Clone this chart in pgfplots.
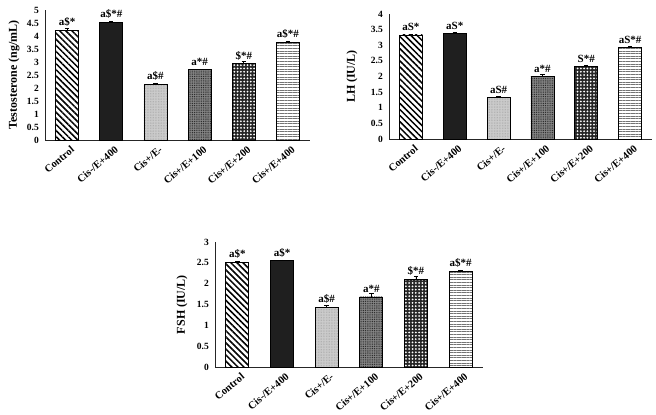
\documentclass[border=0pt]{standalone}
\usepackage{fontspec}
\setmainfont{Liberation Serif}
\usepackage{pgfplots}
\pgfplotsset{compat=1.18}
\usetikzlibrary{patterns.meta}
\tikzset{
  c1/.style={draw=black, line width=0.8pt, fill=white, postaction={pattern={Lines[angle=-45,distance=4.3pt,line width=1.5pt]}, pattern color=black}},
  c2/.style={draw=black, line width=0.8pt, fill=black!88},
  c3/.style={draw=black, line width=0.8pt, fill=black!20, postaction={pattern={Dots[distance=1.6pt,radius=0.3pt]}, pattern color=black!45}},
  c4/.style={draw=black, line width=0.8pt, fill=black!48, postaction={pattern={Dots[distance=1.8pt,radius=0.55pt]}, pattern color=black!85}},
  c5/.style={draw=black, line width=0.8pt, fill=black!85, postaction={pattern={Dots[distance=3.3pt,radius=1.0pt]}, pattern color=white}},
  c6/.style={draw=black, line width=0.8pt, fill=white, postaction={pattern={Lines[angle=0,distance=2.6pt,line width=0.7pt]}, pattern color=black!55}},
}
\pgfplotsset{
  myax/.style={
    scale only axis, width=265pt, xmin=-0.5, xmax=5.5, ymin=0,
    axis x line=bottom, axis y line=left,
    axis line style={line width=0.9pt, black!85, -},
    xtick={0,...,5},
    xticklabels={Control, Cis-/E+400, Cis+/E-, Cis+/E+100, Cis+/E+200, Cis+/E+400},
    x tick label style={rotate=40, anchor=north east, font=\bfseries\fontsize{10.5}{12}\selectfont, inner sep=1pt, yshift=-5pt},
    y tick label style={font=\bfseries\fontsize{9.5}{11}\selectfont, inner sep=1pt, xshift=-5pt},
    ylabel style={font=\bfseries\fontsize{12}{14}\selectfont, anchor=center},
    major tick length=0pt, tick style={draw=none},
    /pgf/number format/assume math mode=true,
    ybar, bar width=23pt, bar shift=0pt, clip=false,
    nodes near coords style={font=\bfseries\fontsize{11}{13}\selectfont, anchor=south, inner sep=1pt, yshift=2.5pt, black},
    error bars/y dir=plus, error bars/y explicit,
    error bars/error bar style={black, line width=0.6pt},
    error bars/error mark options={rotate=90, mark size=2.2pt, black, line width=0.6pt},
  }
}
\begin{document}
\begin{tikzpicture}
\useasboundingbox (0,0) rectangle (656pt,415pt);
% Testosterone
\begin{axis}[myax, at={(45pt,275pt)}, anchor=south west, height=130pt, ymax=5,
  ytick={0,0.5,1,1.5,2,2.5,3,3.5,4,4.5,5}, ylabel={Testosterone (ng/mL)},
  ylabel style={at={(axis description cs:-0.117,0.5)}}]
\addplot[c1, nodes near coords={a\$*}] coordinates {(0,4.22) +- (0,0.07)};
\addplot[c2, nodes near coords={a\$*\#}] coordinates {(1,4.52) +- (0,0.03)};
\addplot[c3, nodes near coords={a\$\#}] coordinates {(2,2.13) +- (0,0.04)};
\addplot[c4, nodes near coords={a*\#}] coordinates {(3,2.70) +- (0,0.02)};
\addplot[c5, nodes near coords={\$*\#}] coordinates {(4,2.93) +- (0,0.08)};
\addplot[c6, nodes near coords={a\$*\#}] coordinates {(5,3.75) +- (0,0.05)};
\end{axis}
% LH
\begin{axis}[myax, at={(389pt,276pt)}, anchor=south west, height=125pt, width=263pt, ymax=4,
  ytick={0,0.5,1,1.5,2,2.5,3,3.5,4}, ylabel={LH (IU/L)},
  ylabel style={at={(axis description cs:-0.141,0.5)}}]
\addplot[c1, nodes near coords={aS*}] coordinates {(0,3.33) +- (0,0.01)};
\addplot[c2, nodes near coords={aS*}] coordinates {(1,3.37) +- (0,0.04)};
\addplot[c3, nodes near coords={aS\#}] coordinates {(2,1.33) +- (0,0.03)};
\addplot[c4, nodes near coords={a*\#}] coordinates {(3,2.00) +- (0,0.07)};
\addplot[c5, nodes near coords={S*\#}] coordinates {(4,2.33) +- (0,0.02)};
\addplot[c6, nodes near coords={aS*\#}] coordinates {(5,2.93) +- (0,0.04)};
\end{axis}
% FSH
\begin{axis}[myax, at={(215pt,48pt)}, anchor=south west, height=125pt, width=268pt, ymax=3,
  ytick={0,0.5,1,1.5,2,2.5,3}, ylabel={FSH (IU/L)},
  ylabel style={at={(axis description cs:-0.123,0.5)}}]
\addplot[c1, nodes near coords={a\$*}] coordinates {(0,2.52) +- (0,0.01)};
\addplot[c2, nodes near coords={a\$*}] coordinates {(1,2.55) +- (0,0.02)};
\addplot[c3, nodes near coords={a\$\#}] coordinates {(2,1.44) +- (0,0.04)};
\addplot[c4, nodes near coords={a*\#}] coordinates {(3,1.68) +- (0,0.08)};
\addplot[c5, nodes near coords={\$*\#}] coordinates {(4,2.10) +- (0,0.08)};
\addplot[c6, nodes near coords={a\$*\#}] coordinates {(5,2.30) +- (0,0.03)};
\end{axis}
\end{tikzpicture}
\end{document}
